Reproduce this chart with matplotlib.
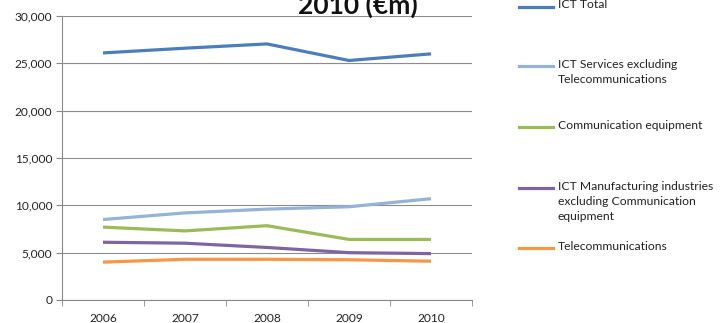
import matplotlib.pyplot as plt
from matplotlib.lines import Line2D
from matplotlib.ticker import FuncFormatter

years = ['2006', '2007', '2008', '2009', '2010']

ict_total = [26100, 26600, 27050, 25300, 26000]
ict_services = [8500, 9200, 9600, 9850, 10700]
comm_equipment = [7700, 7300, 7850, 6400, 6400]
ict_manufacturing = [6100, 6000, 5550, 5000, 4900]
telecoms = [4000, 4300, 4300, 4250, 4100]

series_labels = [
    'ICT Total',
    'ICT Services excluding\nTelecommunications',
    'Communication equipment',
    'ICT Manufacturing industries\nexcluding Communication\nequipment',
    'Telecommunications',
]
series_values = [ict_total, ict_services, comm_equipment, ict_manufacturing, telecoms]
series_colors = ['#4A7EBB', '#95B3D7', '#9BBB59', '#8064A2', '#F79646']

plt.rcParams['font.family'] = ['Lato', 'DejaVu Sans']

W, H = 720, 323
fig = plt.figure(figsize=(W / 100, H / 100), dpi=100)
ax = fig.add_axes([62 / W, 1 - 300 / H, 410 / W, 284 / H])

x = list(range(len(years)))
for vals, color in zip(series_values, series_colors):
    ax.plot(x, vals, color=color, linewidth=2.3, solid_capstyle='butt', zorder=3)

ax.set_xlim(-0.5, len(years) - 0.5)
ax.set_ylim(0, 30000)
ax.set_yticks(range(0, 30001, 5000))
ax.yaxis.set_major_formatter(FuncFormatter(lambda v, p: f'{int(v):,}'))
ax.set_xticks(x)
ax.set_xticklabels(years)
ax.set_xticks([i - 0.5 for i in range(len(years) + 1)], minor=True)
ax.tick_params(axis='x', which='major', length=0, pad=9, labelsize=8.6, colors='#222222')
ax.tick_params(axis='x', which='minor', length=4, color='#888888', direction='out')
ax.tick_params(axis='y', length=4, color='#888888', labelsize=8.6, labelcolor='#222222', pad=3)

ax.grid(axis='y', color='#8C8C8C', linewidth=0.8)
ax.set_axisbelow(True)
for side in ('top', 'right'):
    ax.spines[side].set_visible(False)
for side in ('left', 'bottom'):
    ax.spines[side].set_color('#888888')
    ax.spines[side].set_linewidth(0.8)

# title, only the last line shows above the plot
fig.text(298 / W, 1 - 14 / H, '2010 (€m)', fontsize=19, fontweight='bold',
         ha='left', va='baseline', color='#111111')

# legend down the right side
legend_rows = [7, 66, 127, 188, 248]
for label, color, row in zip(series_labels, series_colors, legend_rows):
    fig.add_artist(Line2D([519 / W, 553 / W], [1 - row / H, 1 - row / H],
                          color=color, linewidth=2.3, transform=fig.transFigure))
    fig.text(558 / W, 1 - (row - 7.5) / H, label, fontsize=8.7, ha='left', va='top',
             color='#222222', linespacing=1.5)

fig.savefig('out.png', dpi=100)
